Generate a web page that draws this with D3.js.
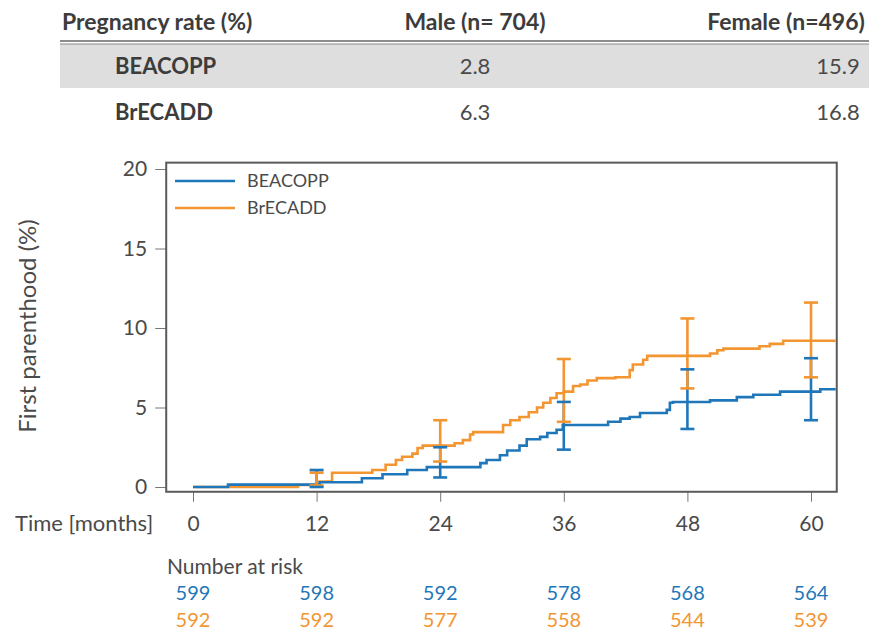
<!DOCTYPE html>
<html>
<head>
<meta charset="utf-8">
<script src="https://cdn.jsdelivr.net/npm/d3@7"></script>
<style>
  body { margin: 0; background: #fff; }
  svg { font-family: Lato, "Open Sans", sans-serif; }
</style>
</head>
<body>
<div id="chart"></div>
<script>
// table above the chart
const tableHeader = ["Pregnancy rate (%)", "Male (n= 704)", "Female (n=496)"];
const tableRows = ["BEACOPP", "BrECADD"];
const maleRate = ["2.8", "6.3"];
const femaleRate = ["15.9", "16.8"];

// step curves (months, %)
const beacoppT = [0, 3.4, 12.3, 16.4, 18.4, 20.8, 22.7, 27.9, 28.5, 29.8, 30.5, 31.7, 32.4, 33.7, 34.4, 35.3, 35.9, 40.3, 41.5, 42.4, 43.4, 46.0, 46.3, 46.6, 50.2, 52.8, 54.4, 57.0, 60.9];
const beacoppV = [0, 0.15, 0.3, 0.55, 0.8, 1.07, 1.25, 1.5, 1.7, 2.0, 2.3, 2.6, 3.0, 3.15, 3.4, 3.6, 3.9, 4.1, 4.3, 4.4, 4.65, 4.85, 5.3, 5.35, 5.45, 5.65, 5.8, 6.0, 6.15];
const brecaddT = [0, 10.2, 12.3, 13.5, 17.4, 18.7, 19.7, 20.3, 21.3, 21.8, 22.3, 25.4, 26.2, 26.9, 27.2, 30.1, 30.8, 31.7, 32.6, 33.4, 34.0, 34.7, 35.3, 36.0, 36.9, 37.6, 38.3, 39.2, 41.0, 42.4, 42.7, 43.7, 44.1, 50.2, 50.9, 51.5, 55.0, 56.0, 57.3];
const brecaddV = [0, 0.13, 0.35, 0.9, 1.07, 1.4, 1.7, 1.9, 2.1, 2.45, 2.6, 2.75, 2.95, 3.3, 3.45, 3.9, 4.2, 4.4, 4.7, 5.0, 5.3, 5.6, 5.9, 6.0, 6.35, 6.45, 6.7, 6.85, 6.9, 7.35, 7.7, 8.0, 8.25, 8.4, 8.6, 8.7, 8.85, 9.0, 9.2];

// confidence intervals
const ciTimes = [12, 24, 36, 48, 60];
const beacoppLow = [0, 0.6, 2.35, 3.65, 4.2];
const beacoppHigh = [1.07, 2.5, 5.35, 7.4, 8.1];
const brecaddLow = [0.1, 1.6, 4.1, 6.2, 6.9];
const brecaddHigh = [0.9, 4.2, 8.05, 10.6, 11.6];

// number at risk
const riskTimes = [0, 12, 24, 36, 48, 60];
const riskBeacopp = [599, 598, 592, 578, 568, 564];
const riskBrecadd = [592, 592, 577, 558, 544, 539];

const blue = "#1f77ba", orange = "#f39530", textCol = "#4a4a4a";

const svg = d3.select("#chart").append("svg")
    .attr("width", 869)
    .attr("height", 631);

// ---- table
svg.append("rect")
    .attr("x", 60).attr("y", 44)
    .attr("width", 809).attr("height", 44)
    .attr("fill", "#dedede");
svg.append("line").attr("x1", 60).attr("x2", 869).attr("y1", 41).attr("y2", 41)
    .attr("stroke", "#666").attr("stroke-width", 1.5);
svg.append("line").attr("x1", 60).attr("x2", 869).attr("y1", 44).attr("y2", 44)
    .attr("stroke", "#888").attr("stroke-width", 1);

const colX = [62, 475, 786];
svg.selectAll(".th")
    .data(tableHeader)
    .join("text")
    .attr("x", (d, i) => colX[i])
    .attr("y", 30)
    .attr("text-anchor", (d, i) => i == 0 ? "start" : "middle")
    .attr("font-size", 23)
    .attr("font-weight", "bold")
    .attr("fill", "#3c3c3c")
    .text(d => d);

const rowY = [74, 120];
tableRows.forEach((r, i) => {
  svg.append("text").attr("x", 115).attr("y", rowY[i])
    .attr("font-size", 22).attr("font-weight", "bold").attr("fill", "#3c3c3c").text(r);
  svg.append("text").attr("x", 475).attr("y", rowY[i]).attr("text-anchor", "middle")
    .attr("font-size", 22).attr("fill", textCol).text(maleRate[i]);
  svg.append("text").attr("x", 838).attr("y", rowY[i]).attr("text-anchor", "middle")
    .attr("font-size", 22).attr("fill", textCol).text(femaleRate[i]);
});

// ---- plot
const x = d3.scaleLinear().domain([0, 60]).range([193, 811]);
const y = d3.scaleLinear().domain([0, 20]).range([487, 169]);
const xMin = -2.6, xMax = 62.5;

// y axis ticks (outside the box)
svg.append("g")
    .attr("transform", "translate(" + x(xMin) + ",0)")
    .call(d3.axisLeft(y).tickValues([0, 5, 10, 15, 20]).tickSize(11).tickPadding(8))
    .call(g => g.select(".domain").remove())
    .call(g => g.selectAll("line").attr("stroke", "#777"))
    .call(g => g.selectAll("text").attr("font-size", 21).attr("fill", textCol).attr("font-family", "Lato"));

svg.append("g")
    .attr("transform", "translate(0," + y(-0.3) + ")")
    .call(d3.axisBottom(x).tickValues(riskTimes).tickSize(10).tickPadding(14))
    .call(g => g.select(".domain").remove())
    .call(g => g.selectAll("line").attr("stroke", "#777"))
    .call(g => g.selectAll("text").attr("font-size", 21).attr("fill", textCol).attr("font-family", "Lato"));

// box
svg.append("rect")
    .attr("x", x(xMin)).attr("y", y(20.4))
    .attr("width", x(xMax) - x(xMin)).attr("height", y(-0.3) - y(20.4))
    .attr("fill", "none").attr("stroke", "#5a5a5a").attr("stroke-width", 2);

const line = d3.line()
    .x(d => x(d[0]))
    .y(d => y(d[1]))
    .curve(d3.curveStepAfter);

function steps(T, V) {
  const pts = T.map((t, i) => [t, V[i]]);
  pts.push([xMax - 0.1, V[V.length - 1]]);
  return pts;
}

svg.append("path").datum(steps(brecaddT, brecaddV))
    .attr("d", line).attr("fill", "none").attr("stroke", orange).attr("stroke-width", 2.6);
svg.append("path").datum(steps(beacoppT, beacoppV))
    .attr("d", line).attr("fill", "none").attr("stroke", blue).attr("stroke-width", 2.6);

// error bars: blue stems, orange bars, then blue caps on top
const capW = 7;
svg.selectAll(".bstem").data(ciTimes).join("line")
    .attr("x1", d => x(d)).attr("x2", d => x(d))
    .attr("y1", (d, i) => y(beacoppLow[i])).attr("y2", (d, i) => y(beacoppHigh[i]))
    .attr("stroke", blue).attr("stroke-width", 2.6);
svg.selectAll(".ostem").data(ciTimes).join("line")
    .attr("x1", d => x(d)).attr("x2", d => x(d))
    .attr("y1", (d, i) => y(brecaddLow[i])).attr("y2", (d, i) => y(brecaddHigh[i]))
    .attr("stroke", orange).attr("stroke-width", 2.6);
[brecaddLow, brecaddHigh].forEach(arr => {
  svg.append("g").selectAll("line").data(ciTimes).join("line")
    .attr("x1", d => x(d) - capW).attr("x2", d => x(d) + capW)
    .attr("y1", (d, i) => y(arr[i])).attr("y2", (d, i) => y(arr[i]))
    .attr("stroke", orange).attr("stroke-width", 2.6);
});
[beacoppLow, beacoppHigh].forEach(arr => {
  svg.append("g").selectAll("line").data(ciTimes).join("line")
    .attr("x1", d => x(d) - capW).attr("x2", d => x(d) + capW)
    .attr("y1", (d, i) => y(arr[i])).attr("y2", (d, i) => y(arr[i]))
    .attr("stroke", blue).attr("stroke-width", 2.6);
});

// legend
const legend = [["BEACOPP", blue], ["BrECADD", orange]];
legend.forEach((l, i) => {
  svg.append("line").attr("x1", 175).attr("x2", 235)
    .attr("y1", 181 + i * 27).attr("y2", 181 + i * 27)
    .attr("stroke", l[1]).attr("stroke-width", 2.6);
  svg.append("text").attr("x", 247).attr("y", 181 + i * 27).attr("dy", "0.35em")
    .attr("font-size", 18).attr("fill", textCol).text(l[0]);
});

// axis titles
svg.append("text")
    .attr("transform", "translate(36,326) rotate(-90)")
    .attr("text-anchor", "middle")
    .attr("font-size", 24).attr("fill", textCol)
    .text("First parenthood (%)");
svg.append("text").attr("x", 15).attr("y", 531)
    .attr("font-size", 22).attr("fill", textCol).text("Time [months]");

// number at risk
svg.append("text").attr("x", 167).attr("y", 574)
    .attr("font-size", 21).attr("fill", textCol).text("Number at risk");
svg.selectAll(".rb").data(riskBeacopp).join("text")
    .attr("x", (d, i) => x(riskTimes[i])).attr("y", 600)
    .attr("text-anchor", "middle").attr("font-size", 20).attr("fill", blue).text(d => d);
svg.selectAll(".ro").data(riskBrecadd).join("text")
    .attr("x", (d, i) => x(riskTimes[i])).attr("y", 627)
    .attr("text-anchor", "middle").attr("font-size", 20).attr("fill", orange).text(d => d);
</script>
</body>
</html>
